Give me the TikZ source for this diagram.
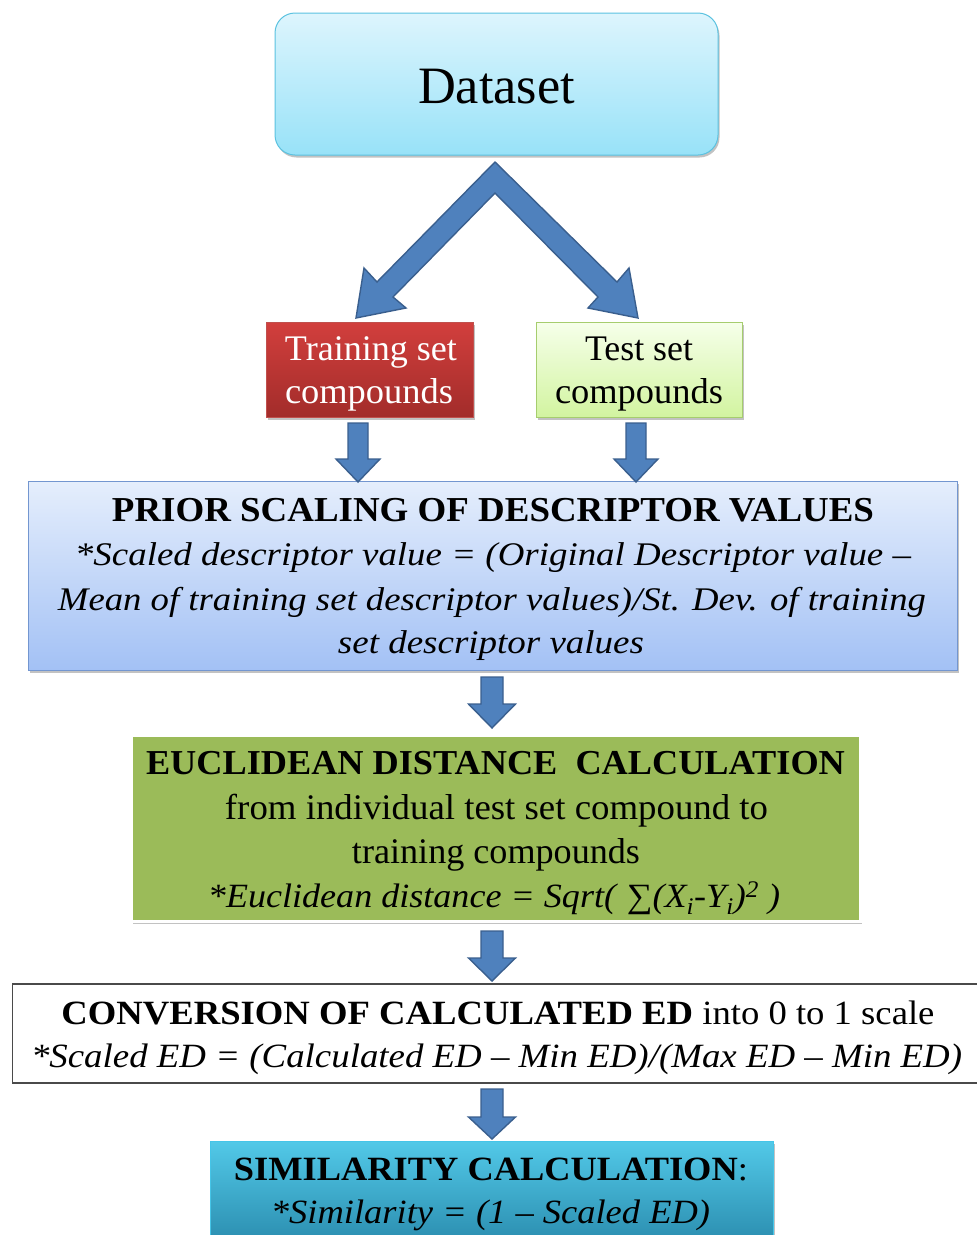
\documentclass[tikz,border=0pt]{standalone}
\usepackage{fontspec}
\setmainfont{Liberation Serif}
\usepackage{graphicx}
\usetikzlibrary{calc,shadows}

\definecolor{dsTop}{HTML}{DDF5FD}
\definecolor{dsBot}{HTML}{98E2F8}
\definecolor{dsLine}{HTML}{5BC2E0}
\definecolor{arrFill}{HTML}{4F81BD}
\definecolor{arrLine}{HTML}{3A5F8E}
\definecolor{trTop}{HTML}{D23F3D}
\definecolor{trBot}{HTML}{A22C2A}
\definecolor{trLine}{HTML}{C0504D}
\definecolor{teTop}{HTML}{F6FFEA}
\definecolor{teBot}{HTML}{D2F4A0}
\definecolor{teLine}{HTML}{A6CD6E}
\definecolor{prTop}{HTML}{E5EEFC}
\definecolor{prBot}{HTML}{A3C1F5}
\definecolor{prLine}{HTML}{7396D0}
\definecolor{euFill}{HTML}{9BBB59}
\definecolor{coLine}{HTML}{4A4A4A}
\definecolor{siTop}{HTML}{52C9E8}
\definecolor{siBot}{HTML}{2A8CAE}
\definecolor{siLine}{HTML}{45C5E8}

% stretch a line of text to a given width, keeping its height
\newcommand{\fitw}[2]{\resizebox{#1}{\height}{#2}}
\newcommand{\fsz}[1]{\fontsize{#1}{#1}\selectfont}

% block arrow pointing down: from, to, half shaft, half head, head length
\newcommand{\blockdown}[5]{%
  \draw[blockarr] let \p1=(#1), \p2=(#2) in
    (\x1-#3,\y1) -- (\x1+#3,\y1) -- (\x1+#3,\y2+#5) -- (\x1+#4,\y2+#5)
    -- (\x2,\y2) -- (\x1-#4,\y2+#5) -- (\x1-#3,\y2+#5) -- cycle;}

\tikzset{
  box/.style={draw, inner sep=0pt, outer sep=0pt},
  shad/.style={drop shadow={shadow xshift=1.5pt, shadow yshift=-2.5pt, opacity=0.4, fill=black!60}},
  txt/.style={anchor=base, inner sep=0pt, outer sep=0pt},
  blockarr/.style={fill=arrFill, draw=arrLine, line width=1.4pt, line join=miter},
}

\begin{document}
\begin{tikzpicture}[x=1pt, y=-1pt]
\useasboundingbox (0,0) rectangle (977,1235);
\clip (0,0) rectangle (977,1235);

% ---- boxes ----
\node[box, shad, rounded corners=20pt, draw=dsLine, line width=1pt,
      top color=dsTop, bottom color=dsBot,
      minimum width=443pt, minimum height=142pt] (dataset) at (496.5,84) {};
\node[box, shad, draw=trLine, line width=1pt, top color=trTop, bottom color=trBot,
      minimum width=207pt, minimum height=95pt] (train) at (369.5,369.5) {};
\node[box, shad, draw=teLine, line width=1pt, top color=teTop, bottom color=teBot,
      minimum width=206pt, minimum height=95pt] (test) at (639,369.5) {};
\node[box, shad, draw=prLine, line width=1pt, top color=prTop, bottom color=prBot,
      minimum width=929pt, minimum height=189pt] (prior) at (492.5,575.5) {};
\node[box, shad, draw=white, line width=3pt, fill=euFill,
      minimum width=729pt, minimum height=186pt] (euc) at (495.5,828) {};
\node[box, draw=coLine, line width=1.3pt, fill=white,
      minimum width=967.5pt, minimum height=99pt] (conv) at (496.25,1033.5) {};
\node[box, shad, draw=siLine, line width=1pt, top color=siTop, bottom color=siBot,
      minimum width=563pt, minimum height=104pt] (sim) at (491.5,1193) {};

% ---- texts ----
\node[txt, font=\fsz{52.5}] (dataset-t) at (496.5,103) {\fitw{157pt}{Dataset}};

\node[txt, font=\fsz{36}, text=white] (train-t1) at (371,360) {\fitw{172pt}{Training set}};
\node[txt, font=\fsz{36}, text=white] (train-t2) at (369,403) {\fitw{168pt}{compounds}};
\node[txt, font=\fsz{36}] (test-t1) at (639,360) {\fitw{108pt}{Test set}};
\node[txt, font=\fsz{36}] (test-t2) at (639,403) {\fitw{168pt}{compounds}};

\node[txt, font=\fsz{35}\bfseries] (prior-t1) at (493,521) {\fitw{762pt}{PRIOR SCALING OF DESCRIPTOR VALUES}};
\node[txt, font=\fsz{33}\itshape] (prior-t2) at (493,565) {\fitw{836pt}{*Scaled descriptor value = (Original Descriptor value –}};
\node[txt, font=\fsz{33}\itshape] (prior-t3) at (492,610) {\fitw{868pt}{Mean of training set descriptor values)/St. Dev. of training}};
\node[txt, font=\fsz{33}\itshape] (prior-t4) at (491,653) {\fitw{306pt}{set descriptor values}};

\node[txt, font=\fsz{35}\bfseries] (euc-t1) at (495.5,774) {\fitw{699pt}{EUCLIDEAN DISTANCE\ \ CALCULATION}};
\node[txt, font=\fsz{36}] (euc-t2) at (496.5,819) {\fitw{543pt}{from individual test set compound to}};
\node[txt, font=\fsz{36}] (euc-t3) at (496,863) {\fitw{288pt}{training compounds}};
\node[txt, font=\fsz{34}] (euc-t4) at (494,907) {\fitw{572pt}{\textit{*Euclidean distance = Sqrt(} ∑\textit{(X\textsubscript{i}-Y\textsubscript{i})\textsuperscript{2} )}}};

\node[txt, font=\fsz{34}] (conv-t1) at (498,1024) {\fitw{873pt}{\textbf{CONVERSION OF CALCULATED ED} into 0 to 1 scale}};
\node[txt, font=\fsz{34}\itshape] (conv-t2) at (496.5,1067) {\fitw{931pt}{*Scaled ED = (Calculated ED – Min ED)/(Max ED – Min ED)}};

\node[txt, font=\fsz{34}] (sim-t1) at (491,1180) {\fitw{514pt}{\textbf{SIMILARITY CALCULATION}:}};
\node[txt, font=\fsz{34}\itshape] (sim-t2) at (490.5,1223) {\fitw{439pt}{*Similarity = (1 – Scaled ED)}};

% ---- split arrow from the dataset to both compound sets ----
\draw[blockarr] (495,162) -- (617,282) -- (629,268) -- (638,318) -- (588,308)
  -- (598,297) -- (495,193) -- (393,297) -- (406,308) -- (356,318)
  -- (364,268) -- (377,282) -- cycle;

% ---- straight block arrows between the stages ----
\coordinate (tr-a) at (358,423);  \coordinate (tr-b) at (358,482);
\coordinate (te-a) at (636,423);  \coordinate (te-b) at (636,482);
\coordinate (a1-a) at (492,677);  \coordinate (a1-b) at (492,728);
\coordinate (a2-a) at (492,931);  \coordinate (a2-b) at (492,981);
\coordinate (a3-a) at (492,1089); \coordinate (a3-b) at (492,1139);
\blockdown{tr-a}{tr-b}{10pt}{22pt}{23pt}
\blockdown{te-a}{te-b}{10pt}{22pt}{23pt}
\blockdown{a1-a}{a1-b}{11pt}{23.5pt}{24pt}
\blockdown{a2-a}{a2-b}{11pt}{23.5pt}{23pt}
\blockdown{a3-a}{a3-b}{11pt}{23.5pt}{22pt}
\end{tikzpicture}
\end{document}
